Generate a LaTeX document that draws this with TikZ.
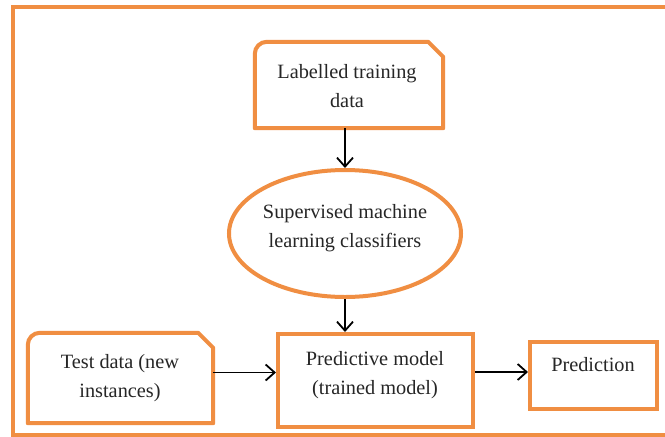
\documentclass[tikz,border=0pt]{standalone}
\usepackage{fontspec}
\setmainfont{Liberation Serif}
\usetikzlibrary{arrows.meta,shapes.geometric}
\definecolor{boxorange}{RGB}{240,142,66}
\tikzset{
  frame/.style={draw=boxorange, line width=4pt},
  shapebox/.style={draw=none, inner sep=0pt},
  outline/.style={draw=boxorange, line width=4pt, line join=round},
  txt/.style={align=center, inner sep=0pt, font=\fontsize{20.3}{29}\selectfont, text=black!85},
  arr/.style={draw=black, line width=1.8pt, -{Straight Barb[length=9pt,width=16pt,line width=1.8pt]}}
}
\begin{document}
\begin{tikzpicture}[x=1pt,y=-1pt]
\useasboundingbox (0,0) rectangle (665,437);
\fill[white] (0,0) rectangle (665,437);
\coordinate (fnw) at (13,7);
\coordinate (fse) at (668,435);
\draw[frame] (fnw) rectangle (fse);

% shapes
\node[shapebox, minimum width=188pt, minimum height=86pt] (lab) at (349,85) {};
\node[shapebox, draw=boxorange, line width=4pt, ellipse, minimum width=232pt, minimum height=127pt] (ell) at (345,233.5) {};
\node[shapebox, minimum width=185pt, minimum height=90pt] (test) at (120.5,378) {};
\node[shapebox, draw=boxorange, line width=4pt, minimum width=195pt, minimum height=93pt] (pred) at (375.5,380.5) {};
\node[shapebox, draw=boxorange, line width=4pt, minimum width=127pt, minimum height=67pt] (out) at (593.5,375.5) {};

% snip + round outlines
\draw[outline] (lab.south west) -- ([yshift=-12pt]lab.north west)
  arc[start angle=180, end angle=90, radius=12pt] -- ([xshift=-15pt]lab.north east)
  -- ([yshift=-15pt]lab.north east) -- (lab.south east) -- cycle;
\draw[outline] (test.south west) -- ([yshift=-12pt]test.north west)
  arc[start angle=180, end angle=90, radius=12pt] -- ([xshift=-15pt]test.north east)
  -- ([yshift=-15pt]test.north east) -- (test.south east) -- cycle;

% texts
\node[txt] (labt) at (347,86) {Labelled training\\data};
\node[txt] (ellt) at (345,228) {Supervised machine\\learning classifiers};
\node[txt] (testt) at (120,378) {Test data (new\\instances)};
\node[txt] (predt) at (375,375) {Predictive model\\(trained model)};
\node[txt] (outt) at (593,365) {Prediction};

% connectors
\draw[arr] (lab.south -| ell.north) -- (ell.north);
\draw[arr] (ell.south) -- (ell.south |- pred.north);
\draw[arr] ([yshift=5.5pt]test.east) -- ([yshift=5.5pt]test.east -| pred.west);
\draw[arr] ([yshift=8.5pt]pred.east) -- ([yshift=8.5pt]pred.east -| out.west);
\end{tikzpicture}
\end{document}
